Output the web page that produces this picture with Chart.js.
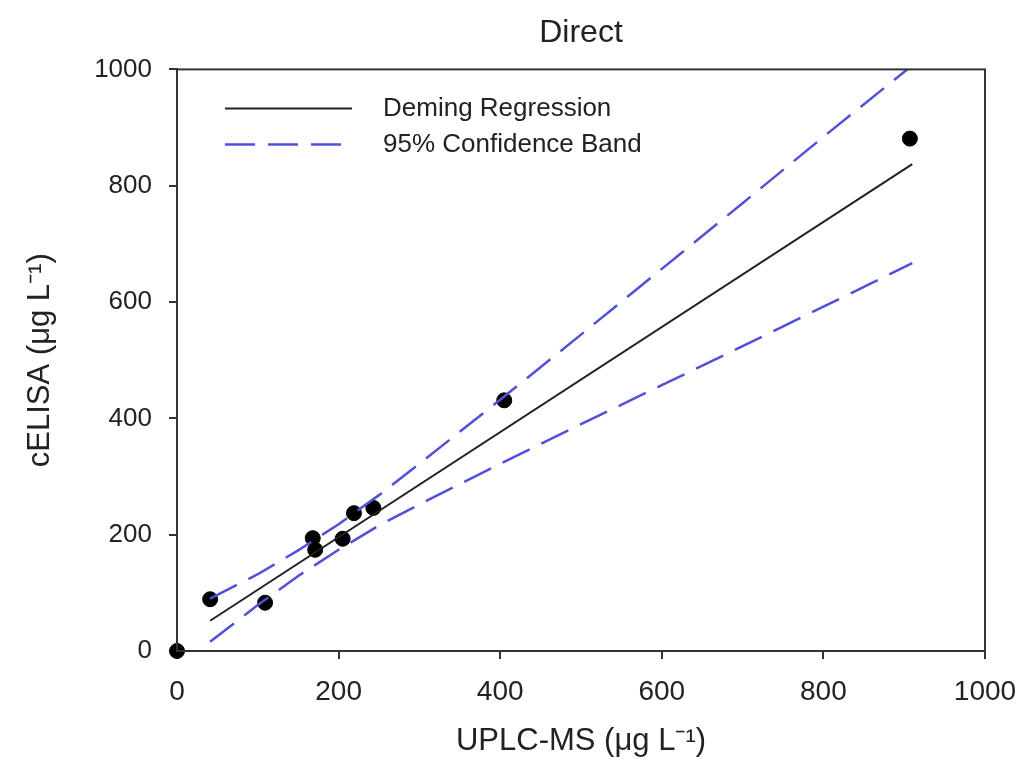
<!DOCTYPE html>
<html>
<head>
<meta charset="utf-8">
<script src="https://cdn.jsdelivr.net/npm/chart.js@4/dist/chart.umd.min.js"></script>
<style>
html,body{margin:0;padding:0;background:#fff;}
#wrap{width:1027px;height:782px;}
</style>
</head>
<body>
<div id="wrap"><canvas id="chart"></canvas></div>
<script>
// measured points (UPLC-MS vs cELISA)
var sampleX = [0, 41, 109, 168, 171, 205, 219, 243, 405, 907];
var sampleY = [0, 89, 83, 194, 174, 193, 237, 246, 431, 881];

// Deming regression line end points
var demingX = [41, 910];
var demingY = [52, 837];

// 95% confidence band
var bandX     = [41, 100, 150, 200, 250, 300, 400, 500, 600, 700, 800, 910];
var bandUpper = [90, 132, 173, 218, 268, 322, 432, 544, 657, 770, 884, 1007];
var bandLower = [16, 79, 129, 174, 216, 252, 322, 390, 457, 524, 592, 667];

var axisTicks = [0, 200, 400, 600, 800, 1000];

var FONT = "'Liberation Sans', Arial, sans-serif";
var blue = "#5050d8";

function pairs(xs, ys){
var out = [];
for(var i=0;i<xs.length;i++){
out.push({x:xs[i], y:ys[i]});
}
return out;
}

/* box round the plot area */
var framePlugin = {
id:"frame",
afterDatasetsDraw:function(chart){
var a = chart.chartArea, ctx = chart.ctx;
ctx.save();
ctx.strokeStyle = "#333";
ctx.lineWidth = 2;
ctx.strokeRect(a.left, a.top, a.right-a.left, a.bottom-a.top);
ctx.restore();
}
};

/* legend inside the plot, top left */
var legendPlugin = {
id:"insideLegend",
afterDraw:function(chart){
var ctx = chart.ctx, a = chart.chartArea;
var rows = chart.data.datasets.filter(function(d){ return d.inLegend; });
ctx.save();
ctx.font = "26px " + FONT;
ctx.textBaseline = "middle";
ctx.fillStyle = "#222";
for(var i=0;i<rows.length;i++){
var y = a.top + 39 + i*36;
ctx.strokeStyle = rows[i].borderColor;
ctx.lineWidth = rows[i].borderWidth;
ctx.setLineDash(rows[i].borderDash || []);
ctx.beginPath();
ctx.moveTo(a.left + 48, y);
ctx.lineTo(a.left + 175, y);
ctx.stroke();
ctx.setLineDash([]);
ctx.fillText(rows[i].label, a.left + 206, y);
}
ctx.restore();
}
};

var ctx = document.getElementById("chart").getContext("2d");

new Chart(ctx,{
type:"scatter",
data:{
datasets:[
{
label:"Deming Regression",
inLegend:true,
data:pairs(demingX, demingY),
showLine:true,
borderColor:"#222",
borderWidth:2,
pointRadius:0
},
{
label:"95% Confidence Band",
inLegend:true,
data:pairs(bandX, bandUpper),
showLine:true,
borderColor:blue,
borderWidth:2.5,
borderDash:[30,13],
pointRadius:0
},
{
label:"lower band",
data:pairs(bandX, bandLower),
showLine:true,
borderColor:blue,
borderWidth:2.5,
borderDash:[30,13],
pointRadius:0
},
{
label:"samples",
data:pairs(sampleX, sampleY),
backgroundColor:"#000",
borderColor:"#000",
pointRadius:7.5,
clip:false
}
]
},
options:{
responsive:true,
maintainAspectRatio:false,
animation:false,
layout:{padding:{left:0, right:42, top:0, bottom:0}},
plugins:{
legend:{display:false},
tooltip:{enabled:false},
title:{
display:true,
fullSize:false,
text:"Direct",
color:"#222",
font:{family:FONT, size:32, weight:"normal"},
padding:{top:14, bottom:17}
}
},
scales:{
x:{
type:"linear",
min:0, max:1000,
afterBuildTicks:function(s){ s.ticks = axisTicks.map(function(v){ return {value:v}; }); },
afterFit:function(s){ s.height = 131; s.paddingRight = 0; },
border:{display:true, color:"#333", width:2},
grid:{drawOnChartArea:false, drawTicks:true, tickLength:8, color:"#333", lineWidth:2},
ticks:{color:"#222", padding:16, font:{family:FONT, size:28}, callback:function(v){ return String(v); }},
title:{display:true, text:"UPLC-MS (\u03bcg L\u207b\u00b9)", color:"#222",
font:{family:FONT, size:31}, padding:{top:4, bottom:22}}
},
y:{
type:"linear",
min:0, max:1000,
afterBuildTicks:function(s){ s.ticks = axisTicks.map(function(v){ return {value:v}; }); },
afterFit:function(s){ s.width = 177; },
border:{display:true, color:"#333", width:2},
grid:{drawOnChartArea:false, drawTicks:true, tickLength:8, color:"#333", lineWidth:2},
ticks:{color:"#222", padding:17, font:{family:FONT, size:26}, callback:function(v){ return String(v); }},
title:{display:true, text:"cELISA (\u03bcg L\u207b\u00b9)", color:"#222",
font:{family:FONT, size:31}, padding:{top:22, bottom:4}}
}
}
},
plugins:[framePlugin, legendPlugin]
});
</script>
</body>
</html>
